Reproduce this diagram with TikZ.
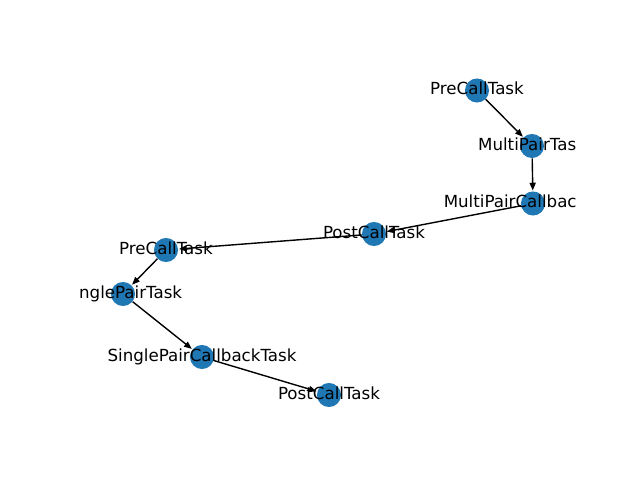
\documentclass[tikz,border=0pt]{standalone}
\usepackage{fontspec}
\setmainfont{DejaVu Sans}
\usetikzlibrary{arrows.meta}
\definecolor{nxblue}{HTML}{1F77B4}
\begin{document}
\begin{tikzpicture}[x=0.72bp,y=-0.72bp,
  vertex/.style={circle,fill=nxblue,inner sep=0pt,minimum size=17.3bp},
  edgeline/.style={draw=black,line width=1bp,-{Triangle[length=5.6bp,width=4.4bp]},shorten >=0.5bp},
  lbl/.style={font=\fontsize{12bp}{14bp}\selectfont,inner sep=0pt,anchor=base}
]
\useasboundingbox (0,0) rectangle (640,480);
\node[vertex] (a) at (477,90.5) {};
\node[vertex] (b) at (532,146) {};
\node[vertex] (c) at (533,203.5) {};
\node[vertex] (d) at (374,234) {};
\node[vertex] (e) at (166,250) {};
\node[vertex] (f) at (123,294) {};
\node[vertex] (g) at (202,357) {};
\node[vertex] (h) at (329,395) {};
\begin{scope}[on background layer/.try]
\end{scope}
\draw[edgeline] (a) -- (b);
\draw[edgeline] (b) -- (c);
\draw[edgeline] (c) -- (d);
\draw[edgeline] (d) -- (e);
\draw[edgeline] (e) -- (f);
\draw[edgeline] (f) -- (g);
\draw[edgeline] (g) -- (h);
\begin{scope}
\clip (80,57.6) rectangle (576,422.4);
\node[lbl] (la) at ([yshift=-3.1bp]a.center) {PreCallTask};
\node[lbl] (lb) at ([yshift=-3.1bp]b.center) {MultiPairTask};
\node[lbl] (lc) at ([yshift=-3.1bp]c.center) {MultiPairCallbackTask};
\node[lbl] (ld) at ([yshift=-3.1bp]d.center) {PostCallTask};
\node[lbl] (le) at ([yshift=-3.1bp]e.center) {PreCallTask};
\node[lbl] (lf) at ([yshift=-3.1bp]f.center) {SinglePairTask};
\node[lbl] (lg) at ([yshift=-3.1bp]g.center) {SinglePairCallbackTask};
\node[lbl] (lh) at ([yshift=-3.1bp]h.center) {PostCallTask};
\end{scope}
\end{tikzpicture}
\end{document}
